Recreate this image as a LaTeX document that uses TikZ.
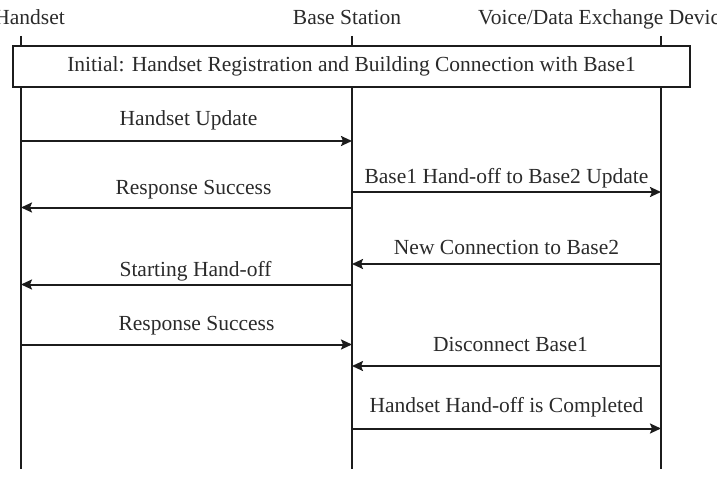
\documentclass[tikz,border=0pt]{standalone}
\usepackage{fontspec}
\setmainfont{Liberation Serif}
\usepackage{xcolor}
\usepackage{tikz}
\usetikzlibrary{positioning,arrows.meta,calc}
\definecolor{HOInk}{HTML}{1C1C1C}
\definecolor{HOText}{HTML}{2A2A2A}
\newcommand{\hofont}{\fontsize{21.5}{24}\selectfont}
\tikzset{
  hohead/.style={
    font=\hofont,
    text=HOText,
    inner sep=0pt,
    anchor=base
  },
  holife/.style={draw=HOInk,line width=1.3pt},
  hophase/.style={
    rectangle,
    draw=HOInk,
    line width=1.3pt,
    fill=white,
    inner sep=0pt,
    minimum width=677pt,
    minimum height=41pt,
    font=\hofont,
    text=HOText
  },
  homsg/.style={-{Stealth[length=11pt,width=10pt,inset=2pt]},line width=2pt,draw=HOInk},
  holabel/.style={midway,anchor=base,yshift=#1,inner sep=0pt,font=\hofont,text=HOText},
  holabel/.default=12pt,
}

\begin{document}
\begin{tikzpicture}[x=1pt,y=-1pt]
  \useasboundingbox (0,0) rectangle (717,489);

  \node[hohead,anchor=base east] (hs) at (65,25) {Handset};
  \node[hohead] (bs) at (347,25) {Base Station};
  \node[hohead,anchor=base west] (vd) at (478,25) {Voice/Data Exchange Device};

  \coordinate (hsTop) at (21,36);
  \coordinate (hsBot) at (21,469);
  \coordinate (bsTop) at (352,36);
  \coordinate (bsBot) at (352,469);
  \coordinate (vdTop) at (661,36);
  \coordinate (vdBot) at (661,469);

  \draw[holife] (hsTop) -- (hsBot);
  \draw[holife] (bsTop) -- (bsBot);
  \draw[holife] (vdTop) -- (vdBot);

  \node[hophase] (init) at (351.5,66.5)
    {Initial: Handset Registration and Building Connection with Base1};

  \coordinate (hsUpd) at (21,141);
  \coordinate (bsUpd) at (352,141);
  \coordinate (bsRsp) at (352,207.5);
  \coordinate (hsRsp) at (21,207.5);
  \coordinate (bsHof) at (352,192);
  \coordinate (vdHof) at (661,192);
  \coordinate (vdNew) at (661,264);
  \coordinate (bsNew) at (352,264);
  \coordinate (bsStart) at (352,284.5);
  \coordinate (hsStart) at (21,284.5);
  \coordinate (hsAck) at (21,344.5);
  \coordinate (bsAck) at (352,344.5);
  \coordinate (vdDisc) at (661,366);
  \coordinate (bsDisc) at (352,366);
  \coordinate (bsDone) at (352,428.5);
  \coordinate (vdDone) at (661,428.5);

  \draw[homsg] (hsUpd) -- node[holabel=15pt,xshift=2pt] (updLbl) {Handset Update} (bsUpd);
  \draw[homsg] (bsRsp) -- node[holabel=13.5pt,xshift=7pt] (rspLbl) {Response Success} (hsRsp);
  \draw[homsg] (bsHof) -- node[holabel=8.5pt] (hofLbl) {Base1 Hand-off to Base2 Update} (vdHof);
  \draw[homsg] (vdNew) -- node[holabel=10pt] (newLbl) {New Connection to Base2} (bsNew);
  \draw[homsg] (bsStart) -- node[holabel=8.5pt,xshift=9pt] (startLbl) {Starting Hand-off} (hsStart);
  \draw[homsg] (hsAck) -- node[holabel=14pt,xshift=10pt] (ackLbl) {Response Success} (bsAck);
  \draw[homsg] (vdDisc) -- node[holabel=14.5pt,xshift=4pt] (discLbl) {Disconnect Base1} (bsDisc);
  \draw[homsg] (bsDone) -- node[holabel=16.5pt] (doneLbl) {Handset Hand-off is Completed} (vdDone);
\end{tikzpicture}
\end{document}
